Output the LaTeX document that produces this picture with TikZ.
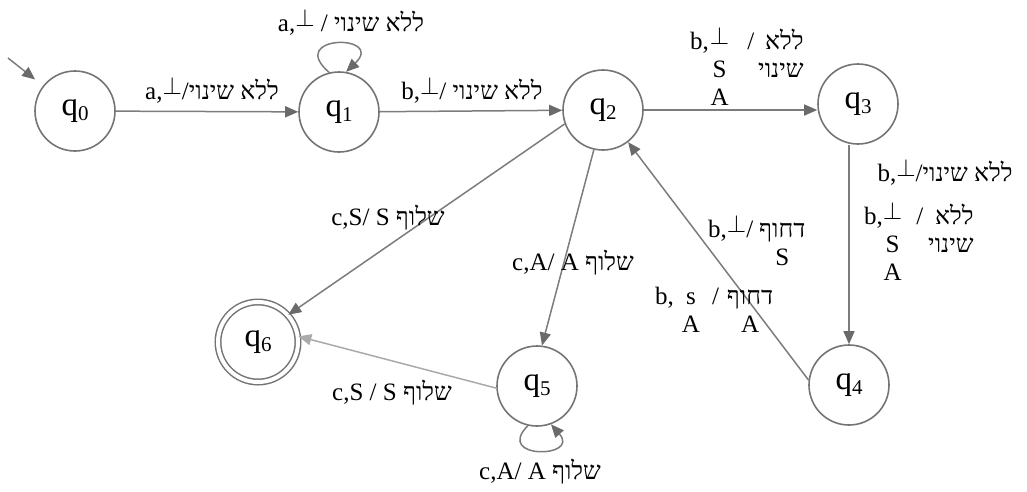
\documentclass[tikz,border=0pt]{standalone}
\usepackage{fontspec}
\setmainfont{Liberation Serif}
\newfontfamily\heb[Script=Hebrew]{Liberation Serif}
\TeXXeTstate=1
\usetikzlibrary{arrows.meta}
\definecolor{stc}{HTML}{747474}
\definecolor{edc}{HTML}{7C7C7C}
\definecolor{tipc}{HTML}{6A6A6A}
\definecolor{lightc}{HTML}{AAAAAA}
\newcommand{\hb}[1]{{\heb\beginR #1\endR}}
\newcommand{\pp}{\raisebox{5pt}{$\perp$}}
\newcommand{\st}[1]{q\raisebox{-5pt}{\fontsize{21}{22}\selectfont #1}}
\begin{document}
\begin{tikzpicture}[x=1pt,y=-1pt,
  font=\fontsize{25}{28}\selectfont,
  state/.style={circle,draw=stc,line width=1.6pt,minimum size=80pt,inner sep=0pt,font=\fontsize{33}{33}\selectfont},
  edge/.style={draw=edc,line width=1.5pt,-{Triangle[length=13pt,width=11pt,color=tipc]}},
  lbl/.style={inner sep=0pt}]
\path[use as bounding box] (0,0) rectangle (1027,491);

\node[state] (q0) at (75,111) {\st0};
\node[state] (q1) at (339,112) {\st1};
\node[state] (q2) at (603,110) {\st2};
\node[state] (q3) at (858,104) {\st3};
\node[state] (q4) at (849,385) {\st4};
\node[state] (q5) at (537,386) {\st5};
\node[state,line width=1.5pt,double=white,double distance=4pt] (q6) at (258,342) {\st6};
\coordinate (init) at (8,58);

\draw[edge,shorten >=10pt] (init) -- (q0);
\draw[edge] (q0) -- (q1);
\draw[edge] (q1) -- (q2);
\draw[edge] (q2.east) -- (q2.east -| q3.west);
\draw[edge] (q3.south -| q4.north) -- (q4.north);
\draw[edge] (q2.200) -- (q6.42);
\draw[edge] (q2.257) -- (q5.83);
\draw[edge] (q4.173) -- (q2.-52);
\draw[edge,draw=lightc,-{Triangle[length=13pt,width=11pt,color=lightc]}] (q5.183) -- (q6.8);
\draw[edge] (q1.104) .. controls +(-44,-38) and +(40,-38) .. (q1.80);
\draw[edge] (q5.257) .. controls +(-34,34) and +(30,34) .. (q5.290);

\node[lbl] (l01) at (212,90) {a,\pp/\hb{ללא שינוי}};
\node[lbl] (l11) at (351,22) {a,\pp{} / \hb{ללא שינוי}};
\node[lbl] (l12) at (472,90) {b,\pp/ \hb{ללא שינוי}};
\node[lbl,anchor=north west] (l23) at (690,27) {\begin{tabular}{@{}l@{\hspace{1pt}}c@{\hspace{18pt}}c@{\hspace{4pt}}r@{}}b,&\pp&/&\hb{ללא}\\ &S&&\hb{שינוי}\\ &A&&\end{tabular}};
\node[lbl] (l34a) at (945,172) {b,\pp/\hb{ללא שינוי}};
\node[lbl,anchor=north west] (l34b) at (864,202) {\begin{tabular}{@{}l@{}c@{\hspace{14pt}}c@{\hspace{5pt}}r@{}}b,&\pp&/&\hb{ללא}\\ &S&&\hb{שינוי}\\ &A&&\end{tabular}};
\node[lbl,anchor=north west] (l42a) at (708,215) {\begin{tabular}{@{}l@{\hspace{6pt}}c@{}}b,\pp/&\hb{דחוף}\\ &S\end{tabular}};
\node[lbl,anchor=north west] (l42b) at (655,285) {\begin{tabular}{@{}l@{\hspace{8pt}}c@{\hspace{12pt}}c@{\hspace{8pt}}c@{}}b,&s&/&\hb{דחוף}\\ &A&&A\end{tabular}};
\node[lbl] (l26) at (388,218) {c,S/ S \hb{שלוף}};
\node[lbl] (l25) at (573,263) {c,A/ A \hb{שלוף}};
\node[lbl] (l56) at (392,393) {c,S / S \hb{שלוף}};
\node[lbl] (l55) at (540,472) {c,A/ A \hb{שלוף}};
\end{tikzpicture}
\end{document}
